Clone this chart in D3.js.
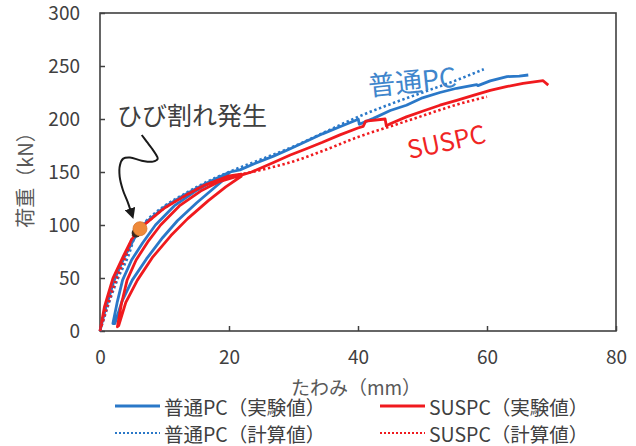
<!DOCTYPE html>
<html>
<head>
<meta charset="utf-8">
<script src="https://cdn.jsdelivr.net/npm/d3@7"></script>
<style>
  html, body { margin: 0; padding: 0; background: #fff; }
  svg { display: block; font-family: "Noto Sans CJK JP", "Noto Sans", sans-serif; }
</style>
</head>
<body>
<svg id="chart" width="636" height="446"></svg>
<script>
// ---- data ----
const xTicks = [0, 20, 40, 60, 80];
const yTicks = [0, 50, 100, 150, 200, 250, 300];

// 普通PC (実験値) : deflection mm, load kN
const pcExp = [
  [0,0],[0.8,20],[2.2,48],[3.8,70],[5.2,86],[6.2,96],
  [7.2,103],[10,117],[13,128],[16,138],[19.8,149],
  [19.8,146],[17.5,134],[15,121],[12,104],[9.7,88],[7.2,68],[5.0,48],[3.4,28],[2.3,7],
  [2.0,7],[2.7,28],[3.5,48],[4.9,67],[6.6,83],[8.6,100],[11.5,118],[14.8,132],[17.5,141],[19.8,148],
  [20.2,150],[21.7,152],[24,158],[26.9,165],[29.5,172],[32,179],[34.5,186],[37.2,192.7],[40.05,199.7],
  [40.2,195],[42.4,200.6],[45,208],[47.5,213],[50,220],[52.7,225],[55.3,229],[58.4,232.5],
  [58.6,231.5],[60.5,236],[63.1,240],[65,240.5],[66.4,241.5]
];
// SUSPC (実験値)
const suExp = [
  [0,0],[0.7,23],[2.0,49.7],[3.57,70],[4.86,85.8],[5.6,92],
  [7.2,102],[10,116],[13,127],[16,137],[19.8,146],[21.9,148],
  [21.9,146],[19.5,136],[16.8,123],[13.6,106],[11,90],[8.2,70],[5.8,48],[4.0,27],[2.9,5],
  [2.7,4],[3.3,25],[4.2,48],[5.6,67],[7.4,84],[9.4,100],[12.3,118],[15.6,132],[18.5,141],[21.9,147],
  [23.5,150],[26.9,159],[29.5,166],[32,172],[34.5,178],[37.2,185],[40,191.5],
  [40.8,193],[41.2,198],[44.2,200],[44.4,193.5],[45,195.5],[47.5,202],[50.1,207.5],[52.7,213],
  [55.3,217.5],[58,222.5],[60.5,227],[63,230.5],[65.6,233.7],[68.7,236.1],[69.5,232]
];
// 普通PC (計算値)
const pcCalc = [
  [0,0],[2.8,50],[4.34,70],[5.6,92.5],[7.2,104],[10,118],[13,129],[16,139],[20,150],
  [25,162],[30,174],[35,188],[40,202],[45,214],[50,225],[55,236],[59.5,247]
];
// SUSPC (計算値)
const suCalc = [
  [0,0],[2.6,50],[4.1,72],[5.3,92],[7.2,102],[10,116],[13,127],[16,137],[20,145],
  [25,152],[30,160],[35,171],[40,183],[45,193],[50,203],[55,213],[60,221]
];
// ひび割れ発生 points
const crackExp = [6.2, 96.5];
const crackCalc = [5.6, 92.5];
// annotation arrow path (data units)
const arrowPts = [
  [6.47,184.9],[7.24,178.6],[8.02,172.4],[8.6,167.2],[8.95,162.5],[8.2,159.8],[6.47,160.7],
  [4.65,163.6],[3.6,162.6],[3.1,156.6],[3.05,145.6],[3.55,133.0],[4.3,121.5],[4.75,113.5]
];

const legendItems = [
  {label: "普通PC（実験値）", color: "#2a78c8", dash: null},
  {label: "SUSPC（実験値）", color: "#f01a1e", dash: null},
  {label: "普通PC（計算値）", color: "#2a78c8", dash: "2,2"},
  {label: "SUSPC（計算値）", color: "#f01a1e", dash: "2,2"}
];

// ---- drawing ----
const svg = d3.select("#chart");
const x = d3.scaleLinear().domain([0, 80]).range([100, 616]);
const y = d3.scaleLinear().domain([0, 300]).range([331, 13]);

const BLUE = "#2a78c8", RED = "#f01a1e", AXIS = "#404040";

// frame
svg.append("rect")
  .attr("x", x(0)).attr("y", y(300))
  .attr("width", x(80) - x(0)).attr("height", y(0) - y(300))
  .attr("fill", "none").attr("stroke", AXIS).attr("stroke-width", 1.6);

// axes
const xAxis = d3.axisBottom(x).tickValues(xTicks).tickSizeInner(-5).tickSizeOuter(0).tickPadding(20);
const gx = svg.append("g").attr("transform", `translate(0,${y(0)})`).call(xAxis);
const yAxis = d3.axisLeft(y).tickValues(yTicks).tickSizeInner(-5).tickSizeOuter(0).tickPadding(20);
const gy = svg.append("g").attr("transform", `translate(${x(0)},0)`).call(yAxis);
[gx, gy].forEach(g => {
  g.select(".domain").remove();
  g.selectAll(".tick line").attr("stroke", AXIS).attr("stroke-width", 1.5);
  g.selectAll(".tick text").attr("fill", AXIS).attr("font-size", 19)
    .attr("font-family", "'Noto Sans CJK JP', sans-serif");
});

// axis titles
svg.append("text").attr("x", (x(0) + x(80)) / 2 - 2).attr("y", 386)
  .attr("text-anchor", "middle").attr("dominant-baseline", "central")
  .attr("font-size", 19).attr("fill", "#595959").text("たわみ（mm）");
svg.append("text").attr("transform", `translate(24,${(y(0)+y(300))/2 + 3}) rotate(-90)`)
  .attr("text-anchor", "middle").attr("dominant-baseline", "central")
  .attr("font-size", 20).attr("fill", "#595959").text("荷重（kN）");

// lines
const line = d3.line().x(d => x(d[0])).y(d => y(d[1]));
const smooth = d3.line().x(d => x(d[0])).y(d => y(d[1])).curve(d3.curveMonotoneX);
svg.append("path").datum(pcExp).attr("d", line)
  .attr("fill", "none").attr("stroke", BLUE).attr("stroke-width", 2.8).attr("stroke-linejoin", "round");
svg.append("path").datum(suExp).attr("d", line)
  .attr("fill", "none").attr("stroke", RED).attr("stroke-width", 2.8).attr("stroke-linejoin", "round");
svg.append("path").datum(pcCalc).attr("d", smooth)
  .attr("fill", "none").attr("stroke", BLUE).attr("stroke-width", 2.6).attr("stroke-dasharray", "2.4,2.6");
svg.append("path").datum(suCalc).attr("d", smooth)
  .attr("fill", "none").attr("stroke", RED).attr("stroke-width", 2.6).attr("stroke-dasharray", "2.4,2.6");

// crack markers
svg.append("circle").attr("cx", x(crackCalc[0])).attr("cy", y(crackCalc[1])).attr("r", 4.5)
  .attr("fill", "#3a2a20");
svg.append("circle").attr("cx", x(crackExp[0])).attr("cy", y(crackExp[1])).attr("r", 7)
  .attr("fill", "#ee8a3a").attr("stroke", "#d9742a").attr("stroke-width", 0.8);

// annotation arrow
const defs = svg.append("defs");
defs.append("marker").attr("id", "ah").attr("viewBox", "0 0 10 10")
  .attr("refX", 2).attr("refY", 5).attr("markerWidth", 11).attr("markerHeight", 11)
  .attr("markerUnits", "userSpaceOnUse").attr("orient", "auto")
  .append("path").attr("d", "M0,0 L10,5 L0,10 Z").attr("fill", "#1a1a1a");
svg.append("path").datum(arrowPts)
  .attr("d", d3.line().x(d => x(d[0])).y(d => y(d[1])).curve(d3.curveCatmullRom.alpha(0.5)))
  .attr("fill", "none").attr("stroke", "#1a1a1a").attr("stroke-width", 2)
  .attr("marker-end", "url(#ah)");

svg.append("text").attr("x", 117).attr("y", 114)
  .attr("dominant-baseline", "central").attr("font-size", 25)
  .attr("fill", "#404040").text("ひび割れ発生");

// series labels
svg.append("text").attr("transform", "translate(412,80) rotate(-6)")
  .attr("text-anchor", "middle").attr("dominant-baseline", "central")
  .attr("font-size", 27).attr("fill", "#3f86cc").text("普通PC");
svg.append("text").attr("transform", "translate(446,140) rotate(-12)")
  .attr("text-anchor", "middle").attr("dominant-baseline", "central")
  .attr("font-size", 25).attr("fill", "#f02424").text("SUSPC");

// legend
const legX = [115, 380], legY = [406, 433];
legendItems.forEach((it, i) => {
  const cx = legX[i % 2], cy = legY[Math.floor(i / 2)];
  svg.append("line").attr("x1", cx).attr("x2", cx + 45).attr("y1", cy).attr("y2", cy)
    .attr("stroke", it.color).attr("stroke-width", it.dash ? 2 : 3)
    .attr("stroke-dasharray", it.dash);
  svg.append("text").attr("x", cx + 49).attr("y", cy)
    .attr("dominant-baseline", "central").attr("font-size", 19.5)
    .attr("fill", "#404040").text(it.label);
});
</script>
</body>
</html>
